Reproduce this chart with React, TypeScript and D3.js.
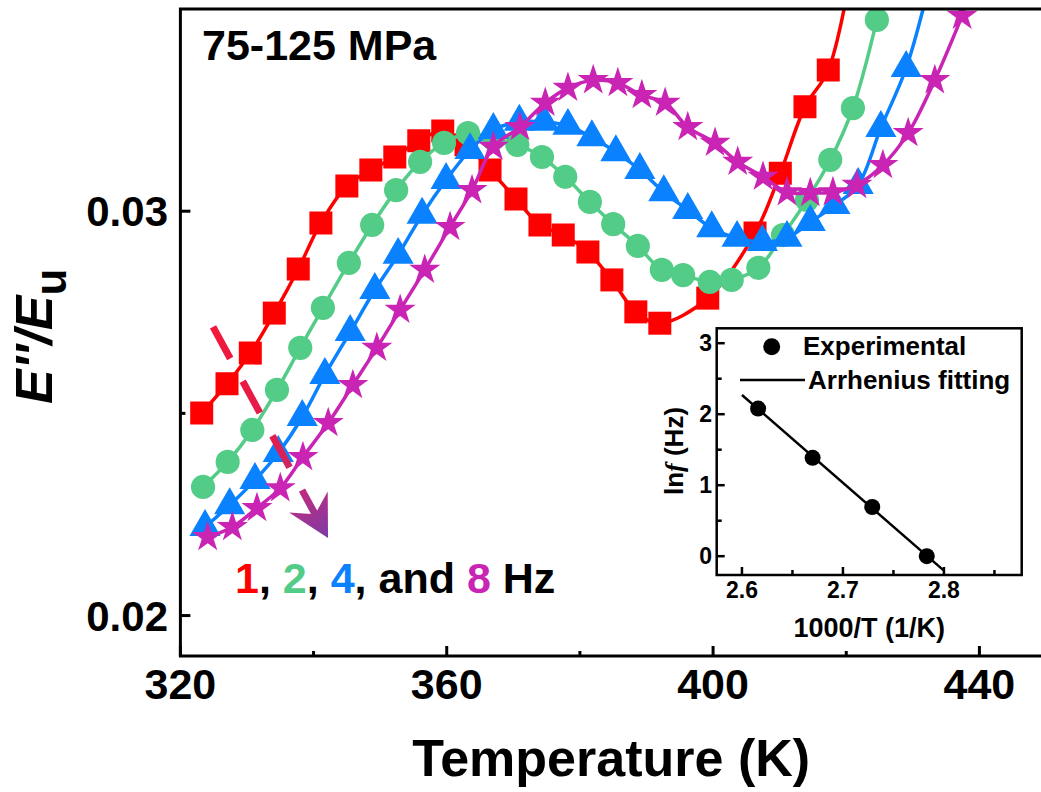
import React from 'react';
import * as d3 from 'd3';

const W = 1041;
const H = 792;
const FONT = "'Liberation Sans', Arial, Helvetica, sans-serif";

// ---- main chart data (Temperature K, E''/Eu) ----
const temp1Hz = [323.2, 327.0, 330.5, 334.1, 337.7, 341.1, 345.0, 348.6, 352.2, 355.8, 359.4, 362.9, 366.5, 370.4, 374.0, 377.5, 381.2, 384.8, 388.4, 392.0, 399.2, 406.3, 410.1, 413.8, 417.3, 420.6];
const val1Hz = [0.02501, 0.02573, 0.02649, 0.02748, 0.02857, 0.02971, 0.03062, 0.03102, 0.03134, 0.03174, 0.03198, 0.03164, 0.03102, 0.0303, 0.02966, 0.02941, 0.02899, 0.0283, 0.02751, 0.02723, 0.02785, 0.02946, 0.03094, 0.03258, 0.03349, 0.0358];

const temp2Hz = [323.4, 327.1, 330.8, 334.5, 338.0, 341.4, 345.3, 348.8, 352.4, 356.0, 359.6, 363.2, 367.0, 370.6, 374.3, 377.8, 381.5, 385.0, 388.7, 392.3, 395.5, 399.5, 402.8, 406.8, 410.5, 414.1, 417.6, 421.0, 424.6];
const val2Hz = [0.02318, 0.0238, 0.02459, 0.02558, 0.02662, 0.02761, 0.02872, 0.02966, 0.03052, 0.03122, 0.03169, 0.03193, 0.03179, 0.03164, 0.03134, 0.03085, 0.03023, 0.02968, 0.02914, 0.02855, 0.02842, 0.02825, 0.0283, 0.0286, 0.02941, 0.03028, 0.03127, 0.03255, 0.03473];

const temp4Hz = [323.7, 327.4, 331.2, 334.7, 338.3, 341.7, 345.5, 349.2, 352.7, 356.3, 359.9, 363.5, 367.0, 370.9, 374.6, 378.2, 381.8, 385.4, 389.0, 392.6, 396.2, 399.8, 403.6, 407.4, 411.1, 414.6, 418.3, 421.8, 425.2, 429.0, 432.6];
const val4Hz = [0.02219, 0.02273, 0.02335, 0.02402, 0.02491, 0.02595, 0.02701, 0.02805, 0.02892, 0.02991, 0.03077, 0.03151, 0.03201, 0.03221, 0.03221, 0.03211, 0.03183, 0.03146, 0.03102, 0.03047, 0.03003, 0.02958, 0.02934, 0.02924, 0.02934, 0.02973, 0.03015, 0.03065, 0.03206, 0.03354, 0.0357];

const temp8Hz = [324.1, 327.8, 331.5, 335.0, 338.4, 342.2, 345.9, 349.5, 353.0, 356.7, 360.5, 363.8, 367.0, 371.0, 374.8, 378.2, 382.0, 385.7, 389.3, 392.8, 396.2, 400.3, 403.7, 407.5, 411.1, 414.6, 418.0, 421.6, 425.5, 429.3, 433.3, 437.4];
const val8Hz = [0.02194, 0.02219, 0.02266, 0.02315, 0.02392, 0.02476, 0.0257, 0.02662, 0.02756, 0.02855, 0.02961, 0.03052, 0.03159, 0.03208, 0.03268, 0.03305, 0.03324, 0.03317, 0.03287, 0.03268, 0.03208, 0.03169, 0.03122, 0.03085, 0.03047, 0.03045, 0.03047, 0.03065, 0.03114, 0.03193, 0.03324, 0.03483];

const xTicksMajor = [320, 360, 400, 440];
const xTicksMinor = [340, 380, 420];
const yTicksMajor = [0.02, 0.03];
const yTicksMinor = [0.025];

// ---- inset data (1000/T, ln f) ----
const insetInvT = [2.616, 2.670, 2.729, 2.783];
const insetLnF = [2.079, 1.386, 0.693, 0];
const insetXTicks = [2.6, 2.7, 2.8];
const insetXMinor = [2.65, 2.75, 2.85];
const insetYTicks = [0, 1, 2, 3];
const insetYMinor = [0.5, 1.5, 2.5];

// arrow annotation (data coords)
const arrowStart = [324.9, 0.02714];
const arrowTip = [342.17, 0.02192];

const COLORS = { red: '#ff0000', green: '#52cc86', blue: '#0a82ff', magenta: '#c924b4' };

export default function App() {
  const left = 180.4, right = 1046, top = 9, bottom = 656;
  const x = d3.scaleLinear().domain([320, 450]).range([left, right]);
  const y = d3.scaleLinear().domain([0.019, 0.035]).range([bottom, top]);

  const series = [
    { T: temp1Hz, v: val1Hz, color: COLORS.red, sym: d3.symbolSquare, size: 529 },
    { T: temp2Hz, v: val2Hz, color: COLORS.green, sym: d3.symbolCircle, size: 460 },
    { T: temp4Hz, v: val4Hz, color: COLORS.blue, sym: d3.symbolTriangle, size: 420 },
    { T: temp8Hz, v: val8Hz, color: COLORS.magenta, sym: d3.symbolStar, size: 300 },
  ];

  const line = d3.line<number[]>().x(d => x(d[0])).y(d => y(d[1])).curve(d3.curveCatmullRom.alpha(0.5));

  // inset scales
  const iL = 716.7, iR = 1021.7, iT = 328.3, iB = 575;
  const ix = d3.scaleLinear().domain([2.575, 2.877]).range([iL, iR]);
  const iy = d3.scaleLinear().domain([-0.265, 3.21]).range([iB, iT]);
  const mx = d3.mean(insetInvT)!, my = d3.mean(insetLnF)!;
  let sxy = 0, sxx = 0;
  insetInvT.forEach((xv, i) => { sxy += (xv - mx) * (insetLnF[i] - my); sxx += (xv - mx) ** 2; });
  const slope = sxy / sxx, icpt = my - slope * mx;
  const fitX = [2.6, 2.8];

  // arrow geometry
  const ax0 = x(arrowStart[0]), ay0 = y(arrowStart[1]);
  const ax1 = x(arrowTip[0]), ay1 = y(arrowTip[1]);
  const len = Math.hypot(ax1 - ax0, ay1 - ay0);
  const ux = (ax1 - ax0) / len, uy = (ay1 - ay0) / len;
  const nx = -uy, ny = ux;
  const pt = (along: number, perp: number) => [ax0 + ux * along + nx * perp, ay0 + uy * along + ny * perp];
  const tip = pt(len, 0), b1 = pt(len - 41, 22), notch = pt(len - 27, 0), b2 = pt(len - 41, -22);
  const shaftEnd = pt(len - 25, 0);

  return (
    <svg width={W} height={H} style={{ position: 'absolute', left: 0, top: 0, background: '#fff' }} fontFamily={FONT}>
      <defs>
        <clipPath id="plotClip">
          <rect x={left} y={top} width={right - left} height={bottom - top} />
        </clipPath>
        <linearGradient id="arrowGrad" gradientUnits="userSpaceOnUse" x1={ax0} y1={ay0} x2={ax1} y2={ay1}>
          <stop offset="0" stopColor="#f2173a" />
          <stop offset="0.55" stopColor="#e01f50" />
          <stop offset="0.8" stopColor="#b82e84" />
          <stop offset="1" stopColor="#7e3aa6" />
        </linearGradient>
      </defs>
      <rect x={0} y={0} width={W} height={H} fill="#fff" />

      {/* series */}
      <g clipPath="url(#plotClip)">
        {series.map((s, si) => {
          const pts = s.T.map((t, i) => [t, s.v[i]]);
          const path = d3.symbol().type(s.sym).size(s.size)()!;
          return (
            <g key={si}>
              <path d={line(pts)!} fill="none" stroke={s.color} strokeWidth={3.5} />
              {pts.map((p, i) => (
                <path key={i} d={path} transform={`translate(${x(p[0])},${y(p[1])})`} fill={s.color} />
              ))}
            </g>
          );
        })}
      </g>

      {/* frame */}
      <rect x={left} y={top} width={right - left} height={bottom - top} fill="none" stroke="#000" strokeWidth={3} />
      {xTicksMajor.map(t => (
        <g key={'xm' + t}>
          <line x1={x(t)} x2={x(t)} y1={bottom} y2={bottom - 10} stroke="#000" strokeWidth={3} />
          <text x={x(t)} y={699} textAnchor="middle" fontSize={43} fontWeight="bold">{t}</text>
        </g>
      ))}
      {xTicksMinor.map(t => (
        <line key={'xn' + t} x1={x(t)} x2={x(t)} y1={bottom} y2={bottom - 5} stroke="#000" strokeWidth={3} />
      ))}
      {yTicksMajor.map(t => (
        <g key={'ym' + t}>
          <line x1={left} x2={left + 10} y1={y(t)} y2={y(t)} stroke="#000" strokeWidth={3} />
          <text x={168} y={y(t) + 15} textAnchor="end" fontSize={42} fontWeight="bold">{t.toFixed(2)}</text>
        </g>
      ))}
      {yTicksMinor.map(t => (
        <line key={'yn' + t} x1={left} x2={left + 5} y1={y(t)} y2={y(t)} stroke="#000" strokeWidth={3} />
      ))}

      {/* axis titles */}
      <text x={(left + right) / 2 - 2} y={776} textAnchor="middle" fontSize={52} fontWeight="bold">Temperature (K)</text>
      <text transform={`translate(52,404) rotate(-90)`} fontSize={52} fontWeight="bold">
        <tspan fontStyle="italic">E''/E</tspan>
        <tspan fontSize={44} dy={14}>u</tspan>
      </text>

      {/* annotation */}
      <text x={202} y={60} fontSize={43} fontWeight="bold">75-125 MPa</text>
      <path d={`M${ax0},${ay0}L${shaftEnd[0]},${shaftEnd[1]}`} stroke="url(#arrowGrad)" strokeWidth={7} strokeDasharray="36 26" fill="none" />
      <path d={`M${tip[0]},${tip[1]}L${b1[0]},${b1[1]}L${notch[0]},${notch[1]}L${b2[0]},${b2[1]}Z`} fill="url(#arrowGrad)" />
      <text x={235} y={593} fontSize={43} fontWeight="bold">
        <tspan fill={COLORS.red}>1</tspan>
        <tspan>, </tspan>
        <tspan fill={COLORS.green}>2</tspan>
        <tspan>, </tspan>
        <tspan fill={COLORS.blue}>4</tspan>
        <tspan>, and </tspan>
        <tspan fill={COLORS.magenta}>8</tspan>
        <tspan> Hz</tspan>
      </text>

      {/* inset */}
      <rect x={iL} y={iT} width={iR - iL} height={iB - iT} fill="#fff" stroke="#000" strokeWidth={2.5} />
      {insetXTicks.map(t => (
        <g key={'ix' + t}>
          <line x1={ix(t)} x2={ix(t)} y1={iB} y2={iB - 8} stroke="#000" strokeWidth={2.5} />
          <text x={ix(t)} y={598} textAnchor="middle" fontSize={23} fontWeight="bold">{t.toFixed(1)}</text>
        </g>
      ))}
      {insetXMinor.map(t => (
        <line key={'ixn' + t} x1={ix(t)} x2={ix(t)} y1={iB} y2={iB - 5} stroke="#000" strokeWidth={2.5} />
      ))}
      {insetYTicks.map(t => (
        <g key={'iy' + t}>
          <line x1={iL} x2={iL + 8} y1={iy(t)} y2={iy(t)} stroke="#000" strokeWidth={2.5} />
          <text x={712} y={iy(t) + 8} textAnchor="end" fontSize={23} fontWeight="bold">{t}</text>
        </g>
      ))}
      {insetYMinor.map(t => (
        <line key={'iyn' + t} x1={iL} x2={iL + 5} y1={iy(t)} y2={iy(t)} stroke="#000" strokeWidth={2.5} />
      ))}
      <line x1={ix(fitX[0])} y1={iy(icpt + slope * fitX[0])} x2={ix(fitX[1])} y2={iy(icpt + slope * fitX[1])} stroke="#000" strokeWidth={2.5} />
      {insetInvT.map((t, i) => (
        <circle key={'ic' + i} cx={ix(t)} cy={iy(insetLnF[i])} r={8} fill="#000" />
      ))}
      <circle cx={771.7} cy={346.7} r={8.5} fill="#000" />
      <text x={803} y={355} fontSize={26} fontWeight="bold">Experimental</text>
      <line x1={740} x2={805} y1={380} y2={380} stroke="#000" strokeWidth={2.5} />
      <text x={808} y={389} fontSize={26} fontWeight="bold">Arrhenius fitting</text>
      <text x={(iL + iR) / 2} y={637} textAnchor="middle" fontSize={27} fontWeight="bold">1000/T (1/K)</text>
      <text transform={`translate(683,451) rotate(-90)`} textAnchor="middle" fontSize={26} fontWeight="bold">
        ln<tspan fontStyle="italic" fontFamily="'Liberation Serif', 'DejaVu Serif', serif">f</tspan> (Hz)
      </text>
    </svg>
  );
}
